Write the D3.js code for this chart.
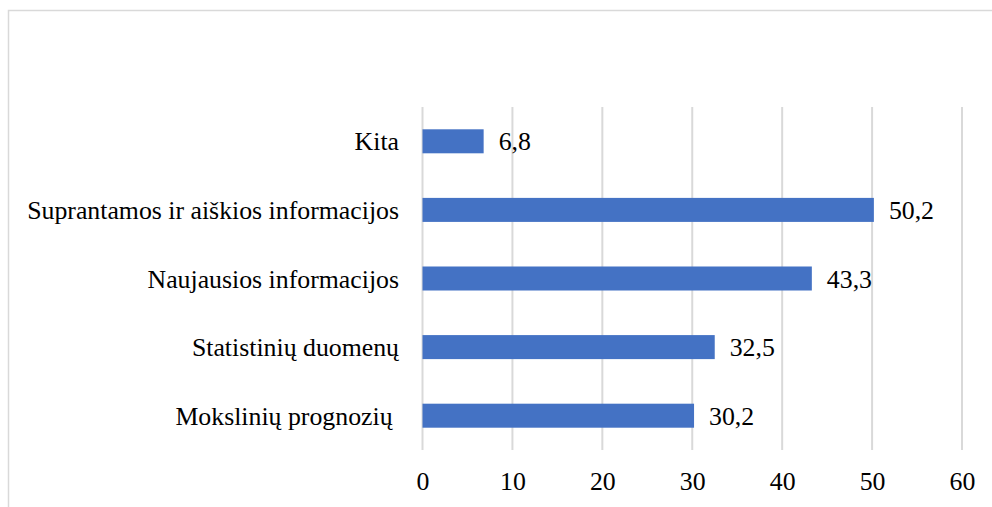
<!DOCTYPE html>
<html>
<head>
<meta charset="utf-8">
<script src="https://cdn.jsdelivr.net/npm/d3@7"></script>
<style>
  body { margin: 0; background: #fff; }
  text { font-family: "Liberation Serif", "Times New Roman", serif; fill: #000; }
</style>
</head>
<body>
<div id="chart"></div>
<script>
// data, top to bottom
var categories = ["Kita", "Suprantamos ir aiškios informacijos", "Naujausios informacijos", "Statistinių duomenų", "Mokslinių prognozių "];
var values = [6.8, 50.2, 43.3, 32.5, 30.2];
var ticks = [0, 10, 20, 30, 40, 50, 60];

var width = 992, height = 507;
var fontSize = "25.8px";
var fmt = function(v) { return String(v).replace(".", ","); };

var svg = d3.select("#chart").append("svg")
    .attr("width", width)
    .attr("height", height);

// chart frame (cut off at right / bottom)
svg.append("rect")
    .attr("x", 8.5).attr("y", 10.5)
    .attr("width", width + 10).attr("height", height + 10)
    .attr("fill", "none")
    .attr("stroke", "#d9d9d9")
    .attr("stroke-width", 1.5);

var x = d3.scaleLinear().domain([0, 60]).range([422.5, 962]);
var y = d3.scaleBand().domain(categories).range([107, 450]).paddingInner(0.65).paddingOuter(0.325);

// grid
svg.append("g").selectAll("line")
    .data(ticks)
  .enter().append("line")
    .attr("x1", function(d) { return x(d); })
    .attr("x2", function(d) { return x(d); })
    .attr("y1", 107)
    .attr("y2", 450)
    .attr("stroke", "#d9d9d9")
    .attr("stroke-width", 2);

// x axis labels
var xAxis = d3.axisBottom(x).tickValues(ticks).tickSize(0).tickPadding(0);
var gx = svg.append("g")
    .attr("transform", "translate(0,481)")
    .call(xAxis);
gx.select(".domain").remove();
gx.selectAll("text")
    .attr("dy", "0.35em")
    .style("font-family", "'Liberation Serif', 'Times New Roman', serif")
    .style("font-size", fontSize)
    .attr("fill", "#000");

// bars
svg.append("g").selectAll("rect")
    .data(values)
  .enter().append("rect")
    .attr("x", x(0))
    .attr("y", function(d, i) { return y(categories[i]); })
    .attr("width", function(d) { return x(d) - x(0); })
    .attr("height", y.bandwidth())
    .attr("fill", "#4472c4");

// value labels
svg.append("g").selectAll("text")
    .data(values)
  .enter().append("text")
    .attr("x", function(d) { return x(d) + 15; })
    .attr("y", function(d, i) { return y(categories[i]) + y.bandwidth() / 2; })
    .attr("dy", "0.35em")
    .style("font-size", fontSize)
    .text(fmt);

// category labels
svg.append("g").selectAll("text")
    .data(categories)
  .enter().append("text")
    .attr("x", 399)
    .attr("y", function(d) { return y(d) + y.bandwidth() / 2; })
    .attr("dy", "0.35em")
    .attr("text-anchor", "end")
    .style("font-size", fontSize)
    .style("white-space", "pre")
    .text(function(d) { return d; });
</script>
</body>
</html>
